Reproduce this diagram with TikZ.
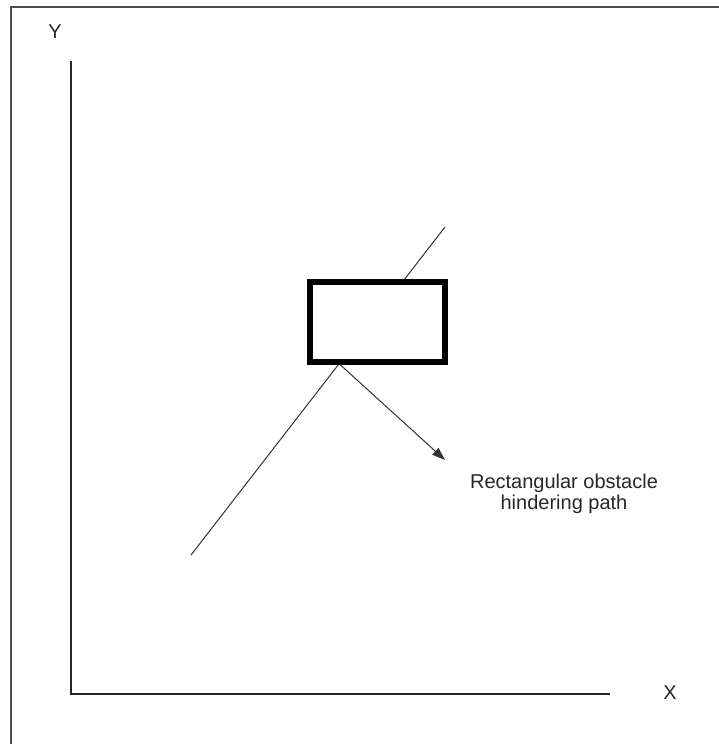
\documentclass[tikz,border=0pt]{standalone}
\usepackage{fontspec}
\setmainfont{Liberation Sans}
\usepackage{tikz}
\usetikzlibrary{arrows.meta}

\begin{document}
\begin{tikzpicture}[x=1pt,y=1pt]
  \tikzstyle{label} = [font=\fontsize{20}{21}\selectfont, text=black!85, inner sep=0pt, align=center]
  \tikzstyle{axis} = [line width=1.4pt, black!85]
  \tikzstyle{obstaclebox} = [rectangle, draw=black, line width=6pt, fill=white, minimum width=135pt, minimum height=80pt, inner sep=0pt]
  \tikzstyle{route} = [line width=1pt, black!80]
  \tikzstyle{arrow} = [line width=1pt, black!80, -{Triangle[length=13pt,width=9pt]}]

  \useasboundingbox (0,0) rectangle (719,744);
  \clip (0,0) rectangle (719,744);
  % outer frame
  \draw[line width=1.4pt, black!70] (11,-10) -- (11,737) -- (740,737);

  % axes
  \coordinate (origin) at (71,50);
  \coordinate (ytop) at (71,683);
  \coordinate (xend) at (610,50);
  \node (ylabel) [label] at (55,712) {Y};
  \node (xlabel) [label] at (670,51) {X};
  \draw [axis] (ytop) -- (origin) -- (xend);

  % path crossing the obstacle
  \coordinate (pathstart) at (191,189);
  \coordinate (pathend) at (445,517);
  \draw [route] (pathstart) -- (pathend);

  \node (obstacle) [obstaclebox] at (377.5,422) {};

  \coordinate (hit) at ([xshift=-37pt]obstacle.south);
  \coordinate (tip) at (445,284);
  \draw [arrow] (hit) -- (tip);
  \node (note) [label] at (564,250) {Rectangular obstacle\\hindering path};
\end{tikzpicture}
\end{document}
